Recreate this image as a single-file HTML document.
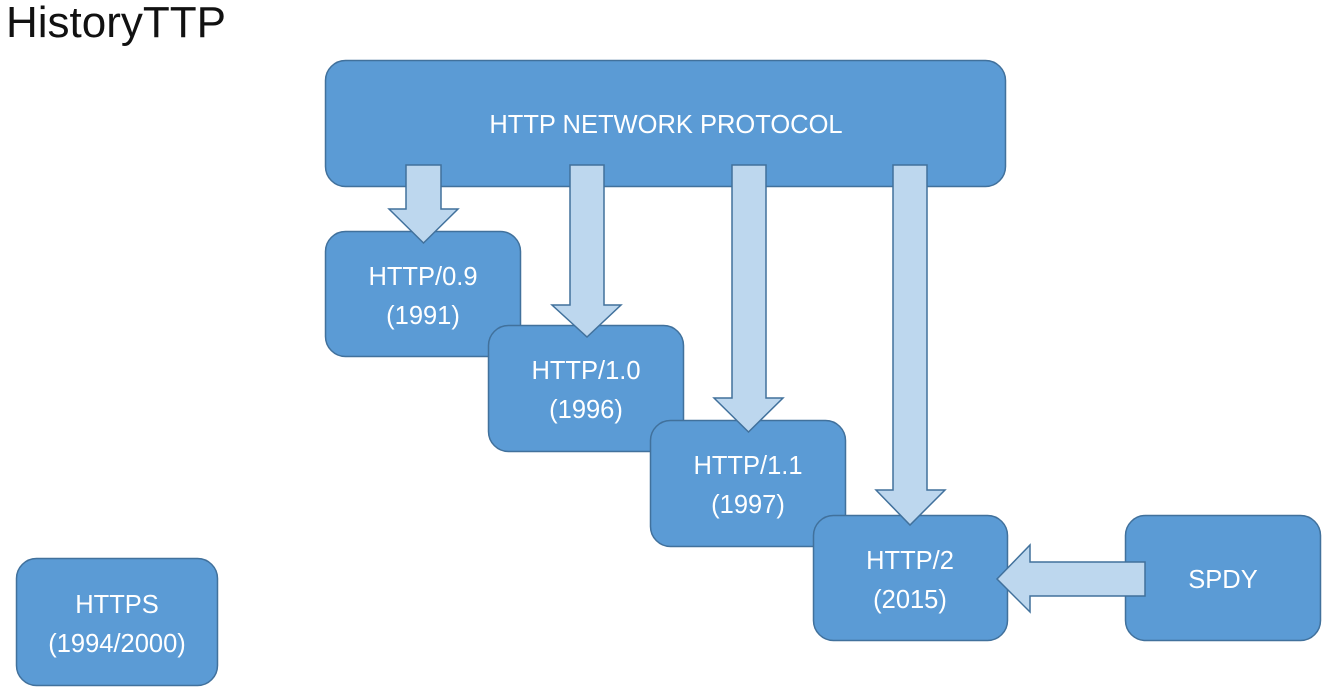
<!DOCTYPE html>
<html><head><style>
body{margin:0;width:1335px;height:700px;background:#fff;position:relative;overflow:hidden;font-family:"Liberation Sans",sans-serif}
.t{position:absolute;left:6px;top:-2px;font-size:44px;color:#111}
</style></head><body>
<div class="t">HistoryTTP</div>
<svg width="1335" height="700" style="position:absolute;left:0;top:0" font-family="Liberation Sans, sans-serif">
<g fill="#5b9bd5" stroke="#41719c" stroke-width="1.5">
<rect x="325.5" y="60.5" width="680" height="126" rx="20"/>
<rect x="325.5" y="231.5" width="195" height="125" rx="20"/>
<rect x="488.5" y="325.5" width="195" height="126" rx="20"/>
<rect x="650.5" y="420.5" width="195" height="126" rx="20"/>
<rect x="813.5" y="515.5" width="194" height="125" rx="20"/>
<rect x="1125.5" y="515.5" width="195" height="125" rx="20"/>
<rect x="16.5" y="558.5" width="201" height="127" rx="20"/>
</g>
<g fill="#bdd7ee" stroke="#41719c" stroke-width="1.5">
<polygon points="406,165 441,165 441,209 458,209 423.5,243 389,209 406,209"/>
<polygon points="570,165 604,165 604,305 621,305 587,337 552,305 570,305"/>
<polygon points="732,165 766,165 766,398 783,398 748.5,432 714,398 732,398"/>
<polygon points="893,165 927,165 927,490 945,490 910,525 876,490 893,490"/>
<polygon points="1145,562 1030,562 1030,545 997,579 1030,612 1030,596 1145,596"/>
</g>
<g fill="#fff" font-size="25.5" text-anchor="middle">
<text x="666" y="133">HTTP NETWORK PROTOCOL</text>
<text x="423" y="285">HTTP/0.9</text><text x="423" y="324">(1991)</text>
<text x="586" y="379">HTTP/1.0</text><text x="586" y="418">(1996)</text>
<text x="748" y="474">HTTP/1.1</text><text x="748" y="513">(1997)</text>
<text x="910" y="569">HTTP/2</text><text x="910" y="608">(2015)</text>
<text x="1223" y="588">SPDY</text>
<text x="117" y="613">HTTPS</text><text x="117" y="652">(1994/2000)</text>
</g>
</svg>
</body></html>
